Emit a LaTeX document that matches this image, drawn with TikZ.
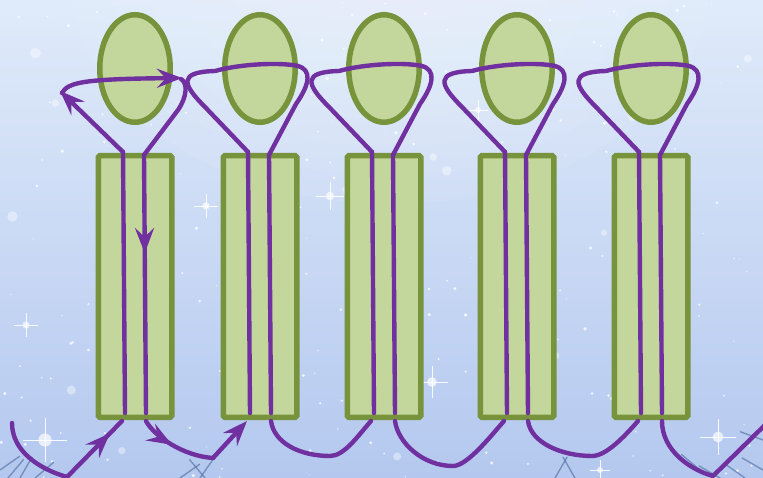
\documentclass[tikz,border=0pt]{standalone}
\usepackage{tikz}
\usetikzlibrary{arrows.meta,calc,shapes.geometric,decorations.markings}
\definecolor{leaf}{HTML}{C3D69B}
\definecolor{leafline}{HTML}{77933C}
\definecolor{loopline}{HTML}{7030A0}
\definecolor{skytop}{HTML}{E0EBFA}
\definecolor{skybot}{HTML}{B4C8EF}
\definecolor{needle}{HTML}{4A6A9C}

\begin{document}
\begin{tikzpicture}[
    x=1pt, y=-1pt,
    head/.style={ellipse, draw=leafline, fill=leaf, line width=5.5pt, minimum width=70.5pt, minimum height=107.5pt, inner sep=0pt},
    trunk/.style={rectangle, draw=leafline, fill=leaf, line width=5.5pt, rounded corners=1.5pt, minimum width=73.5pt, minimum height=261.5pt, inner sep=0pt},
    wire/.style={draw, color=loopline, line width=4.4pt, line cap=round, line join=round},
    tip/.style={-{Stealth[length=25pt, width=19pt, inset=9pt]}},
    flow/.style={postaction={decorate, decoration={markings, mark=at position #1 with {\arrow{Stealth[length=25pt, width=19pt, inset=9pt]}}}}},
    snow/.style={fill=white, opacity=0.8},
    sparkle/.style={white, line width=0.8pt, opacity=0.9}
]
\useasboundingbox (0,0) rectangle (763,478);

% --- Background: sky with snow ---
\fill[top color=skytop, bottom color=skybot] (0,0) rectangle (763,478);
\foreach \r in {1,...,8}{
  \fill[white, opacity=0.05] (390,-20) ellipse ({40*\r} and {28*\r});
}
\pgfmathsetseed{42}
\foreach \k in {1,...,220}{
  \fill[snow] ({rnd*763},{rnd*478}) circle ({0.5+1.3*rnd});
}
\foreach \k in {1,...,18}{
  \fill[white, opacity=0.4] ({rnd*763},{rnd*478}) circle ({2.5+3*rnd});
}
% sparkles
\foreach \sx/\sy/\sr in {45/440/22, 718/437/18, 432/382/16, 330/196/14, 206/206/12, 26/325/12, 600/470/10, 478/110/10}{
  \fill[white, opacity=0.7] (\sx,\sy) circle (0.3*\sr);
  \draw[sparkle] (\sx-\sr,\sy) -- (\sx+\sr,\sy) (\sx,\sy-\sr) -- (\sx,\sy+\sr);
}
% fir needles at the bottom
\foreach \nx/\ny/\na in {0/470/35, 8/478/50, 20/478/60, 35/478/40, 180/478/35, 200/478/55, 205/478/130,
                         555/478/60, 575/478/120, 700/470/140, 720/478/150, 745/478/145, 763/470/150, 763/440/160}{
  \draw[needle, line width=1.4pt, opacity=0.6, line cap=round] (\nx,\ny) -- ++(-\na:24);
}

% --- Five figures: trunk and head ---
\foreach \i/\cx in {1/135, 2/260, 3/384, 4/517, 5/651}{
  \node[trunk] (trunk\i) at (\cx,286.5) {};
  \node[head]  (head\i)  at (\cx,68.5) {};
  % wire ends on each trunk
  \coordinate (lt\i) at ($(trunk\i.north)+(-12,-1)$);
  \coordinate (rt\i) at ($(trunk\i.north)+(9,2)$);
  \coordinate (lb\i) at ($(trunk\i.south)+(-10,-7)$);
  \coordinate (rb\i) at ($(trunk\i.south)+(11,-7)$);
  \coordinate (lo\i) at ($(trunk\i.south)+(-13,1)$);
  \coordinate (ro\i) at ($(trunk\i.south)+(11,1)$);
}

% --- Dips of the wire below the trunks ---
\coordinate (tailstart) at (12,423);
\coordinate (dip0) at (67,477);
\coordinate (dip1) at (213,458);
\coordinate (dip2) at (330,456);
\coordinate (dip3) at (453,466);
\coordinate (dip4) at (592,456);
\coordinate (dip5) at (713,476);
\coordinate (tailend) at (766,424);

% --- First figure, with arrows ---
\draw[wire] (tailstart) .. controls +(0,28) and +(-28,-8) .. (dip0);
\draw[wire, flow=0.78] (dip0) -- (lo1);
\draw[wire] (lb1) -- (lt1);
\draw[wire, tip] (lt1) -- (60,91);
\draw[wire, tip, shift={(135,0)}] (-73,93) .. controls (-67,82) and (-50,79) .. (47,78);
\draw[wire, shift={(135,0)}] (46,79) .. controls (53,83) and (52,97) .. (43,110) -- (rt1);
\draw[wire, flow=0.38] (rt1) -- (rb1);
\draw[wire, flow=0.45] (ro1) .. controls +(8,15) and +(-30,-2) .. (dip1);
\draw[wire, tip] (dip1) -- (lo2);

% --- Other figures ---
\foreach \i/\cx in {2/260, 3/384, 4/517, 5/651}{
  \draw[wire] (lb\i) -- (lt\i);
  \draw[wire, shift={(\cx,0)}] (lt\i) -- (-55,107) .. controls (-78,84) and (-82,72) .. (-45,71)
      .. controls (-20,64) and (20,62) .. (38,66) .. controls (52,70) and (50,84) .. (36,104) -- (rt\i);
  \draw[wire] (rt\i) -- (rb\i);
}
\foreach \i/\j in {2/3, 3/4, 4/5}{
  \draw[wire] (ro\i) .. controls +(3,22) and +(-30,0) .. (dip\i) .. controls +(14,0) and +(-14,16) .. (lo\j);
}
\draw[wire] (ro5) .. controls +(0,30) and +(-22,-6) .. (dip5) -- (tailend);
\end{tikzpicture}
\end{document}
